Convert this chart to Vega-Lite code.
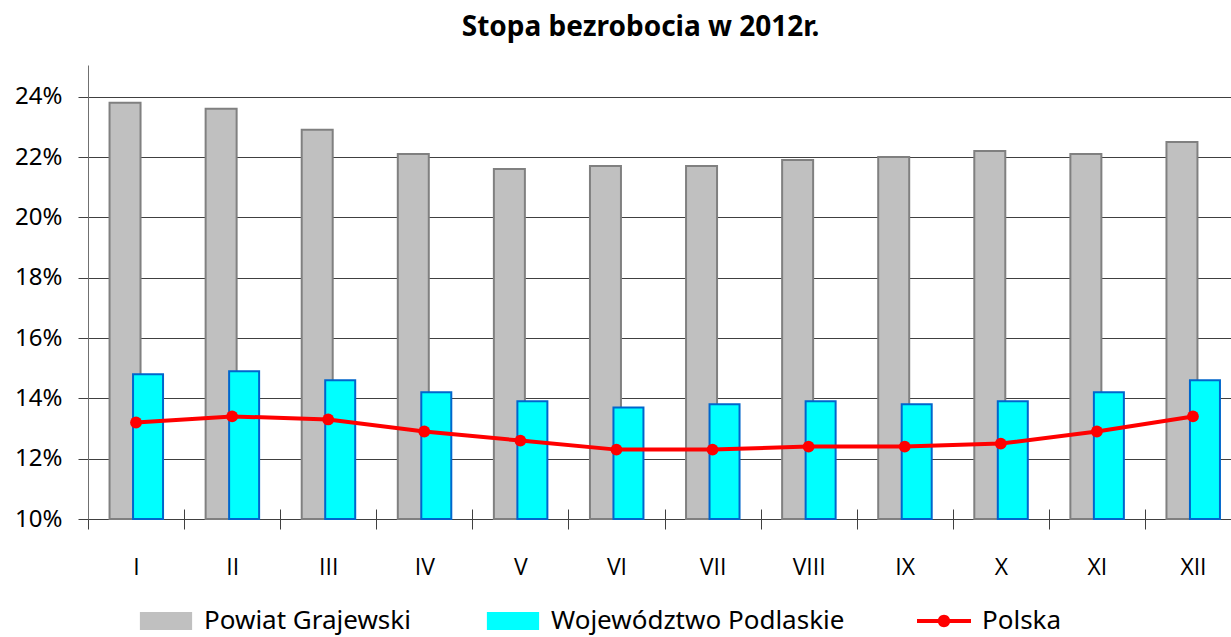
{
  "$schema": "https://vega.github.io/schema/vega-lite/v6.json",
  "width": 1153,
  "height": 454,
  "autosize": {"type": "none"},
  "padding": {"left": 88, "top": 65, "right": 0, "bottom": 118},
  "background": "white",
  "title": {"text": "Stopa bezrobocia w 2012r.", "fontSize": 28, "fontWeight": "bold", "font": "Noto Sans", "color": "black", "anchor": "middle", "frame": "group", "dx": -24, "offset": 23},
  "data": {"values": [
    {"month": "I", "series": "Powiat Grajewski", "value": 23.8},
    {"month": "II", "series": "Powiat Grajewski", "value": 23.6},
    {"month": "III", "series": "Powiat Grajewski", "value": 22.9},
    {"month": "IV", "series": "Powiat Grajewski", "value": 22.1},
    {"month": "V", "series": "Powiat Grajewski", "value": 21.6},
    {"month": "VI", "series": "Powiat Grajewski", "value": 21.7},
    {"month": "VII", "series": "Powiat Grajewski", "value": 21.7},
    {"month": "VIII", "series": "Powiat Grajewski", "value": 21.9},
    {"month": "IX", "series": "Powiat Grajewski", "value": 22.0},
    {"month": "X", "series": "Powiat Grajewski", "value": 22.2},
    {"month": "XI", "series": "Powiat Grajewski", "value": 22.1},
    {"month": "XII", "series": "Powiat Grajewski", "value": 22.5},
    {"month": "I", "series": "Województwo Podlaskie", "value": 14.8},
    {"month": "II", "series": "Województwo Podlaskie", "value": 14.9},
    {"month": "III", "series": "Województwo Podlaskie", "value": 14.6},
    {"month": "IV", "series": "Województwo Podlaskie", "value": 14.2},
    {"month": "V", "series": "Województwo Podlaskie", "value": 13.9},
    {"month": "VI", "series": "Województwo Podlaskie", "value": 13.7},
    {"month": "VII", "series": "Województwo Podlaskie", "value": 13.8},
    {"month": "VIII", "series": "Województwo Podlaskie", "value": 13.9},
    {"month": "IX", "series": "Województwo Podlaskie", "value": 13.8},
    {"month": "X", "series": "Województwo Podlaskie", "value": 13.9},
    {"month": "XI", "series": "Województwo Podlaskie", "value": 14.2},
    {"month": "XII", "series": "Województwo Podlaskie", "value": 14.6},
    {"month": "I", "series": "Polska", "value": 13.2},
    {"month": "II", "series": "Polska", "value": 13.4},
    {"month": "III", "series": "Polska", "value": 13.3},
    {"month": "IV", "series": "Polska", "value": 12.9},
    {"month": "V", "series": "Polska", "value": 12.6},
    {"month": "VI", "series": "Polska", "value": 12.3},
    {"month": "VII", "series": "Polska", "value": 12.3},
    {"month": "VIII", "series": "Polska", "value": 12.4},
    {"month": "IX", "series": "Polska", "value": 12.4},
    {"month": "X", "series": "Polska", "value": 12.5},
    {"month": "XI", "series": "Polska", "value": 12.9},
    {"month": "XII", "series": "Polska", "value": 13.4}
  ]},
  "encoding": {
    "x": {
      "field": "month", "type": "nominal", "title": null,
      "scale": {"domain": ["I","II","III","IV","V","VI","VII","VIII","IX","X","XI","XII"], "paddingInner": 0, "paddingOuter": 0},
      "axis": {"labelAngle": 0, "labelFont": "Open Sans", "labelFontSize": 23, "labelColor": "black", "tickBand": "extent", "tickSize": 20, "tickColor": "#404040", "offset": -10, "domain": false, "labelPadding": 27, "grid": false}
    },
    "y": {
      "field": "value", "type": "quantitative", "title": null,
      "scale": {"domain": [10, 25.05], "zero": false, "nice": false},
      "axis": {"values": [10,12,14,16,18,20,22,24], "labelExpr": "datum.value + '%'", "labelFont": "Noto Sans", "labelFontSize": 24, "labelColor": "black", "labelPadding": 16, "tickSize": 10, "tickColor": "#404040", "domainColor": "#707070", "gridColor": "#404040", "gridWidth": 1, "grid": true}
    },
    "color": {
      "field": "series", "type": "nominal",
      "scale": {"domain": ["Powiat Grajewski", "Województwo Podlaskie", "Polska"], "range": ["#C0C0C0", "#00FFFF", "#FF0000"]},
      "legend": {
        "title": null, "orient": "none", "legendX": 65, "legendY": 543, "direction": "horizontal",
        "symbolSize": 2916, "labelFontSize": 26, "labelFont": "Noto Sans", "labelColor": "black", "labelLimit": 500,
        "labelOffset": 25, "columnPadding": 72, "symbolStrokeWidth": 2, "symbolOpacity": 1,
        "encode": {"symbols": {"update": {
          "shape": {"signal": "datum.value === 'Polska' ? 'M-1,-0.075H1V0.075H-1Z M0.23,0A0.23,0.23,0,1,1,-0.23,0A0.23,0.23,0,1,1,0.23,0Z' : 'M-0.93,-0.3H0.93V0.3H-0.93Z'"},
          "fill": {"signal": "datum.value === 'Powiat Grajewski' ? '#C0C0C0' : datum.value === 'Polska' ? '#FF0000' : '#00FFFF'"},
          "stroke": {"signal": "datum.value === 'Powiat Grajewski' ? '#808080' : datum.value === 'Polska' ? '#FF0000' : '#0066CC'"},
          "strokeWidth": {"signal": "datum.value === 'Polska' ? 0 : 2"},
          "opacity": {"value": 1}
        }}}
      }
    }
  },
  "layer": [
    {
      "transform": [{"filter": "datum.series === 'Powiat Grajewski'"}],
      "mark": {"type": "bar", "size": 31, "xOffset": -11, "stroke": "#808080", "strokeWidth": 2, "opacity": 1},
      "encoding": {"y2": {"datum": 10}}
    },
    {
      "transform": [{"filter": "datum.series === 'Województwo Podlaskie'"}],
      "mark": {"type": "bar", "size": 30, "xOffset": 12, "stroke": "#0066CC", "strokeWidth": 2, "opacity": 1},
      "encoding": {"y2": {"datum": 10}}
    },
    {
      "transform": [{"filter": "datum.series === 'Polska'"}],
      "mark": {"type": "line", "strokeWidth": 4},
      "encoding": {}
    },
    {
      "transform": [{"filter": "datum.series === 'Polska'"}],
      "mark": {"type": "point", "filled": true, "size": 140, "opacity": 1, "shape": "circle"},
      "encoding": {}
    }
  ],
  "config": {"font": "Noto Sans", "view": {"stroke": null}}
}
